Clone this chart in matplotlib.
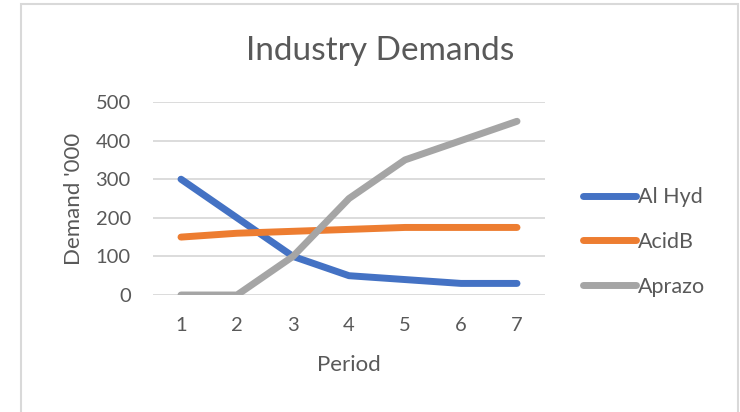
import matplotlib.pyplot as plt
from matplotlib.patches import Rectangle

# Chart data
periods = [1, 2, 3, 4, 5, 6, 7]
al_hyd = [300, 200, 100, 50, 40, 30, 30]
acid_b = [150, 160, 165, 170, 175, 175, 175]
aprazo = [0, 0, 100, 250, 350, 400, 450]
series_names = ["Al Hyd", "AcidB", "Aprazo"]
series_colors = ["#4472C4", "#ED7D31", "#A5A5A5"]

plt.rcParams['font.family'] = ['Lato', 'DejaVu Sans']
text_color = "#595959"

fig = plt.figure(figsize=(7.4, 4.12), dpi=100)
ax = fig.add_axes([153 / 740, 1 - 295 / 412, 392 / 740, 193 / 412])

for vals, name, color in zip([al_hyd, acid_b, aprazo], series_names, series_colors):
    ax.plot(periods, vals, color=color, lw=5, solid_capstyle='round',
            solid_joinstyle='round', label=name)

ax.set_xlim(0.5, 7.5)
ax.set_ylim(0, 500)
ax.set_xticks(periods)
ax.set_yticks(range(0, 501, 100))
ax.grid(axis='y', color='#D9D9D9', lw=1.3)
ax.set_axisbelow(True)
for s in ax.spines.values():
    s.set_visible(False)
ax.tick_params(length=0, labelsize=14.5, labelcolor=text_color)
ax.tick_params(axis='x', pad=16)
ax.tick_params(axis='y', pad=16)

ax.set_ylabel("Demand '000", fontsize=16, color=text_color)
ax.yaxis.set_label_coords((84 - 153) / 392, 0.5)
ax.set_xlabel("Period", fontsize=16, color=text_color)
ax.xaxis.set_label_coords(0.5, (295 - 355) / 193)

fig.text(380 / 740, 1 - 60 / 412, "Industry Demands", fontsize=24,
         color=text_color, ha='center', va='baseline')

ax.legend(loc='center left', bbox_to_anchor=((583 - 153) / 392, (295 - 242) / 193),
          frameon=False, fontsize=15.5, labelcolor=text_color, handlelength=2.45,
          handletextpad=0.1, labelspacing=1.15, borderpad=0, borderaxespad=0)

# chart area frame
fig.patches.append(Rectangle((21 / 740, -0.1), (738 - 21) / 740, 1.1 - 4 / 412,
                             transform=fig.transFigure, fill=False,
                             edgecolor='#D9D9D9', lw=1.5))

fig.savefig("out.png", dpi=100)
